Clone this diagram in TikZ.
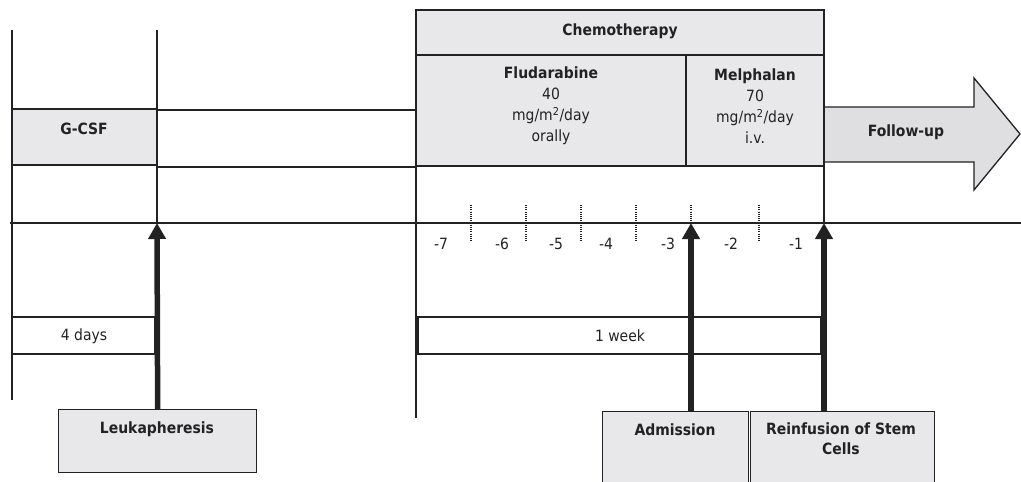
\documentclass[tikz,border=0pt]{standalone}
\usepackage{fontspec}
\setmainfont{DejaVu Sans}[FakeStretch=0.9]
\usetikzlibrary{arrows.meta}
\definecolor{boxgray}{HTML}{E8E8EB}
\definecolor{arrowgray}{HTML}{DFDFE1}
\definecolor{ink}{HTML}{222222}

\begin{document}
\begin{tikzpicture}[x=1pt,y=-1pt,
  rule/.style={draw=ink, line width=1.3pt},
  panel/.style={draw=ink, line width=1.3pt, fill=boxgray},
  plainbox/.style={draw=ink, line width=1.3pt, fill=white},
  txt/.style={text=ink, font=\fontsize{15.5}{21}\selectfont, align=center, inner sep=0pt},
  btxt/.style={txt, font=\fontsize{15.5}{21}\selectfont\bfseries},
  daytick/.style={draw=ink, line width=1.2pt, dash pattern=on 1pt off 1.2pt},
  bigarrow/.style={draw=ink, line width=5.5pt, -{Triangle[length=16pt,width=17pt]}},
]
\useasboundingbox (0,0) rectangle (1021,482);

% shaded phase boxes
\path[panel] (12,109) rectangle (157,165);
\path[panel] (416,10) rectangle (824,55);
\path[panel] (416,55) rectangle (824,166);
\draw[rule] (686,55) -- (686,166);

% follow-up arrow
\path[panel, fill=arrowgray] (824,107) -- (974,107) -- (974,78) -- (1020,134)
  -- (974,190) -- (974,162) -- (824,162) -- cycle;

% duration boxes
\path[plainbox] (12,317) rectangle (155,354);
\path[plainbox] (418,317) rectangle (821,354);

% vertical guides and the time axis
\draw[rule] (12,30) -- (12,400);
\draw[rule] (157,30) -- (157,223);
\draw[rule] (416,10) -- (416,418);
\draw[rule] (824,10) -- (824,223);
\draw[rule] (157,110) -- (416,110);
\draw[rule] (157,167) -- (416,167);
\draw[rule] (10,223) -- (1021,223);

% day separators
\foreach \x in {471,526,581,636,759}
  \draw[daytick] (\x,205) -- (\x,242);
\draw[daytick] (691,205) -- (691,223);

% day numbers
\foreach \x/\d in {441/-7,502/-6,556/-5,606/-4,668/-3,731/-2,796/-1}
  \node[txt] (day\d) at (\x,244) {\d};

% texts of the phases
\node[btxt] (gcsf) at (84,129) {G-CSF};
\node[btxt] (chemo) at (620,31) {Chemotherapy};
\node[txt] (fluda) at (551,106) {\textbf{Fludarabine}\\40\\mg/m\textsuperscript{2}/day\\orally};
\node[txt] (melph) at (755,106) {\textbf{Melphalan}\\70\\mg/m\textsuperscript{2}/day\\i.v.};
\node[btxt] (follow) at (906,132) {Follow-up};
\node[txt] (fourdays) at (84,336) {4 days};
\node[txt] (oneweek) at (620,336) {1 week};

% event boxes
\node[panel, minimum width=198pt, minimum height=63pt, anchor=north west, inner sep=0pt] (leukbox) at (58,409) {};
\node[panel, minimum width=146pt, minimum height=76pt, anchor=north west, inner sep=0pt] (admbox) at (602,411) {};
\node[panel, minimum width=184pt, minimum height=76pt, anchor=north west, inner sep=0pt] (reinfbox) at (750,411) {};
\node[btxt] (leuk) at (157,429) {Leukapheresis};
\node[btxt] (adm) at (675,430) {Admission};
\node[btxt, font=\fontsize{15.5}{20}\selectfont\bfseries] (reinf) at (841,439) {Reinfusion of Stem\\Cells};

% event arrows pointing at the time axis
\coordinate (tLeuk) at (157,223);
\coordinate (tAdm) at (691,223);
\coordinate (tReinf) at (824,223);
\draw[bigarrow] (leukbox.north) -- (tLeuk);
\draw[bigarrow] (admbox.north -| tAdm) -- (tAdm);
\draw[bigarrow] (reinfbox.north -| tReinf) -- (tReinf);
\end{tikzpicture}
\end{document}
